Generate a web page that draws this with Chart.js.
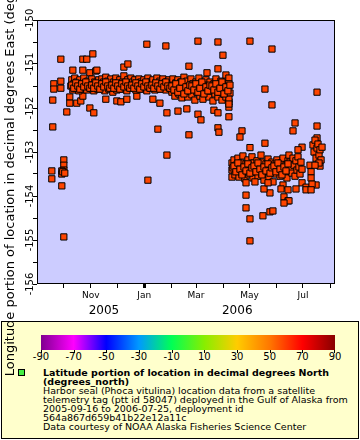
<!DOCTYPE html>
<html>
<head>
<meta charset="utf-8">
<script src="https://cdn.jsdelivr.net/npm/chart.js@4.4.0/dist/chart.umd.min.js"></script>
<style>
  body { margin: 0; background: #fff; font-family: "DejaVu Sans", sans-serif; color: #000; }
  #wrap { position: relative; width: 360px; height: 440px; overflow: hidden; }
  #box { position: absolute; left: 1px; top: 321px; width: 358px; height: 118px; box-sizing: border-box; border: 1px solid #000; background: #ffffcc; }
  #bar { position: absolute; left: 41px; top: 335px; width: 294px; height: 15px;
    background: linear-gradient(to right, #800090 0%, #ff00ff 11.1%, #0000ff 22.2%, #0099ff 33.3%, #00ff55 44.4%,
      #88ee00 55.6%, #ffcc00 66.7%, #ff7700 77.8%, #ff0000 88.9%, #880000 100%); }
  .cbt { position: absolute; top: 350px; width: 1px; height: 3px; background: #000; }
  .cbl { position: absolute; top: 352px; font-size: 10px; line-height: 10px; transform: translateX(-50%); white-space: nowrap; }
  #swatch { position: absolute; left: 18px; top: 369px; width: 7px; height: 7px; box-sizing: border-box; border: 1px solid #000; background: #44ee44; }
  #desc { position: absolute; left: 43px; top: 368px; font-size: 9.5px; line-height: 9px; white-space: nowrap; }
  #myChart { position: absolute; left: 0; top: 0; }
</style>
</head>
<body>
<div id="wrap">
  <div id="box"></div>
  <div id="bar"></div>
  <div id="cbar"></div>
  <div id="swatch"></div>
  <div id="desc">
    <b>Latitude portion of location in decimal degrees North</b><br>
    <b>(degrees_north)</b><br>
    Harbor seal (Phoca vitulina) location data from a satellite<br>
    telemetry tag (ptt id 58047) deployed in the Gulf of Alaska from<br>
    2005-09-16 to 2006-07-25, deployment id<br>
    564a867d659b41b22e12a11c<br>
    Data courtesy of NOAA Alaska Fisheries Science Center
  </div>
  <canvas id="myChart" width="360" height="440"></canvas>
</div>
<script>
// days since deployment start (2005-09-16 UTC)
const deployStart = "2005-09-16";
const deployDays = [
  1.5, 1.5, 2.6, 2.6, 3.8, 3.8, 11.8, 11.8, 11.8, 15.2, 15.2, 15.2, 12.9, 12.9, 14.0, 16.3, 12.9, 15.2, 18.6,
  22.0, 22.0, 25.5, 30.0, 34.6, 36.9, 36.9, 36.9, 41.4, 44.9, 51.7, 48.3, 44.9, 49.4,
  23.2, 24.3, 25.5, 26.6, 27.7, 28.9, 30.0, 31.2, 32.3, 33.5, 34.6, 35.7, 36.9, 38.0, 39.2, 40.3, 41.4, 42.6, 43.7, 44.9, 46.0, 47.1, 48.3, 49.4, 50.6, 51.7, 52.9, 54.0, 55.1, 56.3,
  52.9, 63.1, 75.7, 80.3, 87.1, 83.7, 88.3, 98.5, 109.9, 116.8, 124.8, 122.5, 131.6, 132.8, 111.1,
  57.4, 58.6, 59.7, 60.8, 62.0, 63.1, 64.3, 65.4, 66.6, 67.7, 68.8, 70.0, 71.1, 72.3, 73.4, 74.5, 75.7, 76.8, 78.0, 79.1,
  80.3, 81.4, 82.5, 83.7, 84.8, 86.0, 87.1, 88.2, 89.4, 90.5, 91.7, 92.8, 94.0, 95.1, 96.2, 97.4, 98.5, 99.7, 100.8, 101.9,
  103.1, 104.2, 105.4, 106.5, 107.7, 108.8, 109.9, 111.1, 112.2, 113.4, 114.5, 115.7, 116.8, 117.9, 119.1, 120.2, 121.4, 122.5, 123.6, 124.8,
  125.9, 127.1, 128.2, 129.3, 130.5, 131.6, 132.8, 133.9, 135.1, 136.2,
  137.3, 138.5, 139.6, 140.8, 141.9, 143.0, 144.2, 145.3, 146.5, 147.6, 148.7, 149.9, 151.0, 152.2, 153.3, 154.5, 155.6, 156.7, 157.9, 159.0,
  160.2, 161.3, 162.4, 163.6, 164.7, 165.9, 167.0, 168.2, 169.3, 170.4, 171.6, 172.7, 173.9, 175.0, 176.2, 177.3, 178.4, 179.6, 180.7, 181.9,
  183.0, 184.2, 185.3, 186.4, 187.6, 188.7, 189.9, 191.0, 192.1, 193.3, 194.4, 195.6, 196.7, 197.9, 199.0, 200.1, 201.3, 202.4, 203.6, 204.7,
  132.8, 145.4, 155.5, 168.2, 171.6, 186.4, 191.0, 203.5, 203.5, 191.0, 192.1, 157.9, 157.9, 168.2, 191.0, 196.7, 178.5, 191.0, 200.1,
  207.0, 207.0, 207.0, 203.5, 203.5, 203.5, 203.5,
  208.1, 209.3, 210.4, 211.5, 212.7, 213.8, 215.0, 216.1, 217.2, 218.4, 219.5, 220.7, 221.8, 223.0, 224.1, 225.2, 226.4, 227.5, 228.7, 229.8,
  231.0, 232.1, 233.2, 234.4, 235.5, 236.7, 237.8, 238.9, 240.1, 241.2, 242.4, 243.5, 244.7, 245.8, 246.9, 248.1, 249.2, 250.4, 251.5, 252.6,
  253.8, 254.9, 256.1, 257.2, 258.3, 259.5, 260.6, 261.8, 262.9, 264.0, 265.2, 266.3, 267.5, 268.6, 269.7, 270.9,
  227.5, 252.6, 244.6, 252.6, 218.4, 216.1, 244.6, 227.5, 223.0, 223.0, 227.5, 242.3, 250.3, 250.3, 253.7, 227.5,
  265.2, 266.3, 270.9, 223.0, 233.2, 243.5, 248.1, 262.9, 270.9,
  304.0, 278.9, 276.6, 304.0, 304.0, 286.9, 282.3, 272.0, 266.3, 280.0, 286.9, 291.5, 291.5, 302.9, 307.4,
  272.0, 273.2, 274.3, 275.5, 276.6, 277.7, 278.9, 280.0, 281.2, 282.3, 283.4, 284.6, 285.7, 286.9,
  296.0, 297.2, 297.2, 298.3, 297.2,
  299.4, 300.6, 301.7, 302.9, 304.0, 305.1, 306.3, 307.4, 308.6, 309.7, 306.3, 301.7,
  // core of the dense bands
  24.3, 26.6, 28.9, 31.2, 33.5, 35.7, 38.0, 40.3, 42.6, 44.9, 47.1, 49.4, 51.7, 54.0, 56.3, 58.6, 60.8, 63.1, 65.4, 67.7,
  70.0, 72.3, 74.5, 76.8, 79.1, 81.4, 83.7, 86.0, 88.2, 90.5, 92.8, 95.1, 97.4, 99.7, 101.9, 104.2, 106.5, 108.8, 111.1, 113.4,
  115.7, 117.9, 120.2, 122.5, 124.8, 127.1, 129.3, 131.6, 133.9, 136.2,
  138.5, 140.8, 143.0, 145.3, 147.6, 149.9, 152.2, 154.5, 156.7, 159.0, 161.3, 163.6, 165.9, 168.2, 170.4,
  172.7, 175.0, 177.3, 179.6, 181.9, 184.2, 186.4, 188.7, 191.0, 193.3, 195.6, 197.9, 200.1, 202.4, 204.7,
  209.3, 211.5, 213.8, 216.1, 218.4, 220.7, 223.0, 225.2, 227.5, 229.8, 232.1, 234.4, 236.7, 238.9,
  241.2, 243.5, 245.8, 248.1, 250.4, 252.6, 254.9, 257.2, 259.5, 261.8, 264.0, 266.3, 268.6, 270.9
];
// longitude, degrees east
const lonEast = [
  -153.43, -153.61, -152.43, -151.82, -151.45, -151.57, -150.89, -151.39, -151.55, -153.18, -153.30, -153.41, -153.43, -153.50, -153.45, -153.48, -153.77, -154.93, -152.09,
  -151.75, -151.89, -151.14, -151.89, -151.84, -151.73, -151.14, -150.89, -150.89, -151.20, -151.16, -150.77, -152.00, -152.11,
  -151.50, -151.36, -151.59, -151.45, -151.32, -151.55, -151.41, -151.50, -151.61, -151.36, -151.48, -151.57, -151.43, -151.32, -151.52, -151.45, -151.59, -151.39, -151.50, -151.43, -151.55, -151.34, -151.48, -151.61, -151.41, -151.52, -151.45, -151.57, -151.36, -151.50,
  -151.14, -151.80, -151.84, -151.86, -151.80, -151.07, -151.00, -151.73, -150.55, -151.80, -151.89, -152.48, -150.59, -153.07, -153.64,
  -151.45, -151.34, -151.55, -151.41, -151.61, -151.30, -151.50, -151.39, -151.57, -151.45, -151.34, -151.52, -151.64, -151.41, -151.48, -151.32, -151.59, -151.43, -151.52, -151.36,
  -151.48, -151.57, -151.41, -151.27, -151.50, -151.43, -151.61, -151.36, -151.52, -151.45, -151.32, -151.55, -151.41, -151.50, -151.36, -151.59, -151.45, -151.52, -151.34, -151.48,
  -151.41, -151.57, -151.45, -151.36, -151.52, -151.43, -151.61, -151.32, -151.50, -151.41, -151.55, -151.45, -151.36, -151.50, -151.59, -151.43, -151.32, -151.52, -151.45, -151.39,
  -151.57, -151.48, -151.34, -151.52, -151.43, -151.59, -151.41, -151.50, -151.36, -151.55,
  -151.45, -151.64, -151.34, -151.55, -151.73, -151.43, -151.59, -151.36, -151.68, -151.50, -151.41, -151.77, -151.57, -151.30, -151.66, -151.48, -151.39, -151.75, -151.52, -151.61,
  -151.34, -151.70, -151.45, -151.55, -151.82, -151.41, -151.64, -151.50, -151.32, -151.73, -151.57, -151.43, -151.80, -151.52, -151.66, -151.36, -151.59, -151.48, -151.75, -151.41,
  -151.61, -151.55, -151.84, -151.45, -151.68, -151.34, -151.57, -151.75, -151.48, -151.64, -151.39, -151.82, -151.55, -151.68, -151.43, -151.75, -151.59, -151.50, -151.86, -151.66,
  -152.11, -152.07, -152.02, -152.14, -152.27, -152.05, -152.11, -151.98, -152.20, -152.45, -152.55, -152.61, -151.05, -150.48, -150.50, -150.80, -151.20, -151.11, -151.25,
  -153.25, -153.41, -153.57, -151.32, -151.45, -151.80, -151.91,
  -153.36, -153.18, -153.52, -153.30, -153.43, -153.14, -153.57, -153.34, -153.25, -153.48, -153.09, -153.39, -153.61, -153.27, -153.43, -153.18, -153.52, -153.32, -153.41, -153.11,
  -153.59, -153.25, -153.45, -153.34, -153.20, -153.55, -153.30, -153.41, -153.07, -153.50, -153.23, -153.64, -153.36, -153.27, -153.45, -153.16, -153.57, -153.32, -153.41, -153.23,
  -153.68, -153.36, -153.27, -153.50, -153.18, -153.41, -153.32, -153.55, -153.25, -153.43, -153.14, -153.36, -153.50, -153.30, -153.59, -153.20,
  -150.48, -150.66, -151.57, -151.93, -152.52, -152.66, -152.80, -152.90, -153.98, -154.27, -154.52, -154.45, -153.93, -154.36, -154.34, -155.02,
  -153.75, -154.02, -154.11, -153.70, -153.68, -153.84, -153.70, -153.84, -153.86,
  -151.64, -152.34, -152.52, -152.41, -152.68, -152.89, -152.95, -154.11, -154.16, -153.84, -153.70, -153.80, -153.86, -153.75, -153.32,
  -153.07, -153.23, -153.36, -153.48, -153.14, -153.30, -153.55, -153.20, -153.41, -153.11, -153.34, -153.50, -153.23, -153.39,
  -153.30, -153.45, -153.59, -153.73, -153.86,
  -152.84, -153.00, -152.73, -153.14, -152.91, -152.82, -153.07, -152.95, -153.18, -152.89, -153.25, -153.30,
  // core of the dense bands
  -151.48, -151.55, -151.43, -151.50, -151.57, -151.45, -151.52, -151.41, -151.50, -151.55, -151.48, -151.55, -151.43, -151.50, -151.57, -151.45, -151.52, -151.41, -151.50, -151.55,
  -151.48, -151.55, -151.43, -151.50, -151.57, -151.45, -151.52, -151.41, -151.50, -151.55, -151.48, -151.55, -151.43, -151.50, -151.57, -151.45, -151.52, -151.41, -151.50, -151.55,
  -151.48, -151.55, -151.43, -151.50, -151.57, -151.45, -151.52, -151.41, -151.50, -151.55,
  -151.50, -151.59, -151.45, -151.64, -151.55, -151.41, -151.68, -151.52, -151.61, -151.48, -151.50, -151.59, -151.45, -151.64, -151.55,
  -151.41, -151.68, -151.52, -151.61, -151.48, -151.50, -151.59, -151.45, -151.64, -151.55, -151.41, -151.68, -151.52, -151.61, -151.48,
  -153.32, -153.45, -153.25, -153.39, -153.52, -153.34, -153.43, -153.27, -153.48, -153.36, -153.32, -153.45, -153.25, -153.39,
  -153.52, -153.34, -153.43, -153.27, -153.48, -153.36, -153.32, -153.45, -153.25, -153.39, -153.52, -153.34, -153.43, -153.27
];

const monthTickDates = ["2005-10-01", "2005-11-01", "2005-12-01", "2006-01-01", "2006-02-01", "2006-03-01",
  "2006-04-01", "2006-05-01", "2006-06-01", "2006-07-01", "2006-08-01"];
const monthTickLabels = ["", "Nov", "", "Jan", "", "Mar", "", "May", "", "Jul", ""];
const yearLabels = ["2005", "2006"];
const lonTicks = [-150, -151, -152, -153, -154, -155, -156];
const colorbarTicks = [-90, -70, -50, -30, -10, 10, 30, 50, 70, 90];

// axis range in days since deployment start
const xMin = -15.4;
const xMax = 324.5;

const DAY = 86400000;
const startMs = Date.parse(deployStart);
const toDay = (s) => (Date.parse(s) - startMs) / DAY;
const monthTicks = monthTickDates.map(toDay);
const janDay = toDay("2006-01-01");

// colorbar labels
const cbar = document.getElementById("cbar");
colorbarTicks.forEach((v, i) => {
  const x = 41 + (i * 294) / (colorbarTicks.length - 1);
  const t = document.createElement("div");
  t.className = "cbt";
  t.style.left = Math.round(x) - (i === colorbarTicks.length - 1 ? 1 : 0) + "px";
  cbar.appendChild(t);
  const l = document.createElement("div");
  l.className = "cbl";
  l.style.left = x + "px";
  l.textContent = v;
  cbar.appendChild(l);
});

const FONT = "DejaVu Sans";

const plotFrame = {
  id: "plotFrame",
  beforeDraw(chart) {
    const { ctx, chartArea: a } = chart;
    ctx.save();
    ctx.fillStyle = "#ccccff";
    ctx.fillRect(a.left, a.top, a.right - a.left, a.bottom - a.top);
    ctx.restore();
  },
  afterDatasetsDraw(chart) {
    const { ctx, chartArea: a } = chart;
    ctx.save();
    ctx.strokeStyle = "#000";
    ctx.lineWidth = 1;
    ctx.strokeRect(a.left + 0.5, a.top + 0.5, a.right - a.left - 1, a.bottom - a.top - 1);
    ctx.restore();
  },
  afterDraw(chart) {
    const { ctx } = chart;
    const ys = chart.scales.y;
    const xs = chart.scales.x;
    ctx.save();
    ctx.fillStyle = "#000";
    // rotated longitude tick labels
    ctx.font = "10px " + FONT;
    ctx.textAlign = "center";
    ctx.textBaseline = "alphabetic";
    lonTicks.forEach((v) => {
      const y = ys.getPixelForValue(v);
      ctx.save();
      ctx.translate(32.5, y);
      ctx.rotate(-Math.PI / 2);
      ctx.fillText(String(v), 0, 0);
      ctx.restore();
    });
    // year labels under the month labels
    ctx.font = "12px " + FONT;
    yearLabels.forEach((yr) => {
      const next = String(Number(yr) + 1) + "-01-01";
      const span = monthTicks.filter((d, i) => monthTickDates[i].startsWith(yr) || monthTickDates[i] === next);
      const mid = (Math.min(...span) + Math.max(...span)) / 2;
      ctx.fillText(yr, xs.getPixelForValue(mid), 314);
    });
    ctx.restore();
  },
};

const ctx = document.getElementById("myChart").getContext("2d");
const myChart = new Chart(ctx, {
  type: "scatter",
  data: {
    datasets: [
      {
        label: "Latitude portion of location in decimal degrees North",
        data: deployDays.map((d, i) => ({ x: d, y: lonEast[i] })),
        pointStyle: "rect",
        pointRadius: 4.4,
        pointHoverRadius: 4.4,
        backgroundColor: "#ff4400",
        borderColor: "#000",
        borderWidth: 1,
      },
    ],
  },
  options: {
    responsive: false,
    animation: false,
    events: [],
    layout: { padding: { top: 20, right: 25, bottom: 126, left: 0 } },
    plugins: { legend: { display: false }, tooltip: { enabled: false } },
    scales: {
      x: {
        type: "linear",
        min: xMin,
        max: xMax,
        afterBuildTicks: (scale) => {
          scale.ticks = monthTicks.map((v) => ({ value: v }));
        },
        afterFit: (scale) => {
          scale.height = 30;
        },
        ticks: {
          autoSkip: false,
          maxRotation: 0,
          minRotation: 0,
          padding: 2,
          color: "#000",
          font: { family: FONT, size: 9 },
          callback: (value, index) => monthTickLabels[index],
        },
        grid: {
          drawOnChartArea: false,
          tickLength: 4,
          tickColor: "#000",
          tickWidth: (c) => (c.tick && c.tick.value === janDay ? 3 : 1),
        },
        border: { display: false },
      },
      y: {
        min: -156,
        max: -150,
        afterFit: (scale) => {
          scale.width = 37;
        },
        ticks: {
          stepSize: 0.5,
          callback: () => "",
        },
        grid: {
          drawOnChartArea: false,
          tickLength: 4,
          tickColor: "#000",
        },
        border: { display: false },
        title: {
          display: true,
          text: "Longitude portion of location in decimal degrees East (degrees_east)",
          color: "#000",
          font: { family: FONT, size: 13 },
          padding: { top: 3, bottom: 0 },
        },
      },
    },
  },
  plugins: [plotFrame],
});
</script>
</body>
</html>
